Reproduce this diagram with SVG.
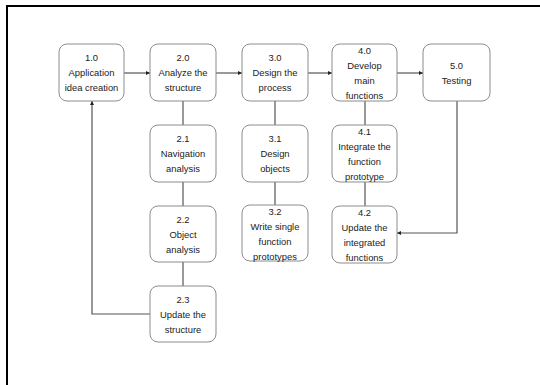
<svg xmlns="http://www.w3.org/2000/svg" width="540" height="385" viewBox="0 0 540 385">
<style>
.box{fill:#fff;stroke:#8c8c8c;stroke-width:1}
.t{font-family:"Liberation Sans",Arial,sans-serif;font-size:9.4px;fill:#222;text-anchor:middle}
.c{fill:none;stroke:#555;stroke-width:1.2}
</style>
<defs>
<marker id="ah" viewBox="0 0 6 6" refX="6" refY="3" markerWidth="4" markerHeight="4" orient="auto" markerUnits="userSpaceOnUse">
<path d="M0,0 L6,3 L0,6 z" fill="#222"/>
</marker>
</defs>
<rect x="0" y="0" width="540" height="385" fill="#fff"/>
<path d="M7,385 V6 H540" fill="none" stroke="#000" stroke-width="2"/>
<g id="connectors">
<path class="c" d="M124,73 H150" marker-end="url(#ah)"/>
<path class="c" d="M216,73 H242" marker-end="url(#ah)"/>
<path class="c" d="M308,73 H332" marker-end="url(#ah)"/>
<path class="c" d="M397,73 H423" marker-end="url(#ah)"/>
<path class="c" d="M183,101 V125"/>
<path class="c" d="M183,182 V206"/>
<path class="c" d="M183,262 V286"/>
<path class="c" d="M275,101 V125"/>
<path class="c" d="M275,182 V205"/>
<path class="c" d="M365,101 V125"/>
<path class="c" d="M365,182 V206"/>
<path class="c" d="M150,314 H92 V101" marker-end="url(#ah)"/>
<path class="c" d="M457,101 V233 H397" marker-end="url(#ah)"/>
</g>
<g id="n10"><rect class="box" x="59" y="44" width="65" height="57" rx="8"/>
<text class="t" x="91.5" y="61">1.0</text><text class="t" x="91.5" y="76">Application</text><text class="t" x="91.5" y="91">idea creation</text></g>
<g id="n20"><rect class="box" x="150" y="44" width="66" height="57" rx="8"/>
<text class="t" x="183" y="61">2.0</text><text class="t" x="183" y="76">Analyze the</text><text class="t" x="183" y="91">structure</text></g>
<g id="n30"><rect class="box" x="242" y="44" width="66" height="57" rx="8"/>
<text class="t" x="275" y="61">3.0</text><text class="t" x="275" y="76">Design the</text><text class="t" x="275" y="91">process</text></g>
<g id="n40"><rect class="box" x="332" y="44" width="65" height="57" rx="8"/>
<text class="t" x="364.5" y="54">4.0</text><text class="t" x="364.5" y="69">Develop</text><text class="t" x="364.5" y="84">main</text><text class="t" x="364.5" y="99">functions</text></g>
<g id="n50"><rect class="box" x="423" y="44" width="67" height="57" rx="8"/>
<text class="t" x="456.5" y="69">5.0</text><text class="t" x="456.5" y="84">Testing</text></g>
<g id="n21"><rect class="box" x="150" y="125" width="66" height="57" rx="8"/>
<text class="t" x="183" y="142">2.1</text><text class="t" x="183" y="157">Navigation</text><text class="t" x="183" y="172">analysis</text></g>
<g id="n22"><rect class="box" x="150" y="206" width="66" height="56" rx="8"/>
<text class="t" x="183" y="223">2.2</text><text class="t" x="183" y="238">Object</text><text class="t" x="183" y="253">analysis</text></g>
<g id="n23"><rect class="box" x="150" y="286" width="66" height="56" rx="8"/>
<text class="t" x="183" y="303">2.3</text><text class="t" x="183" y="318">Update the</text><text class="t" x="183" y="333">structure</text></g>
<g id="n31"><rect class="box" x="242" y="125" width="66" height="57" rx="8"/>
<text class="t" x="275" y="142">3.1</text><text class="t" x="275" y="157">Design</text><text class="t" x="275" y="172">objects</text></g>
<g id="n32"><rect class="box" x="242" y="205" width="66" height="56" rx="8"/>
<text class="t" x="275" y="215">3.2</text><text class="t" x="275" y="230">Write single</text><text class="t" x="275" y="245">function</text><text class="t" x="275" y="260">prototypes</text></g>
<g id="n41"><rect class="box" x="332" y="125" width="65" height="57" rx="8"/>
<text class="t" x="364.5" y="135">4.1</text><text class="t" x="364.5" y="150">Integrate the</text><text class="t" x="364.5" y="165">function</text><text class="t" x="364.5" y="180">prototype</text></g>
<g id="n42"><rect class="box" x="332" y="206" width="65" height="57" rx="8"/>
<text class="t" x="364.5" y="216">4.2</text><text class="t" x="364.5" y="231">Update the</text><text class="t" x="364.5" y="246">integrated</text><text class="t" x="364.5" y="261">functions</text></g>
</svg>
